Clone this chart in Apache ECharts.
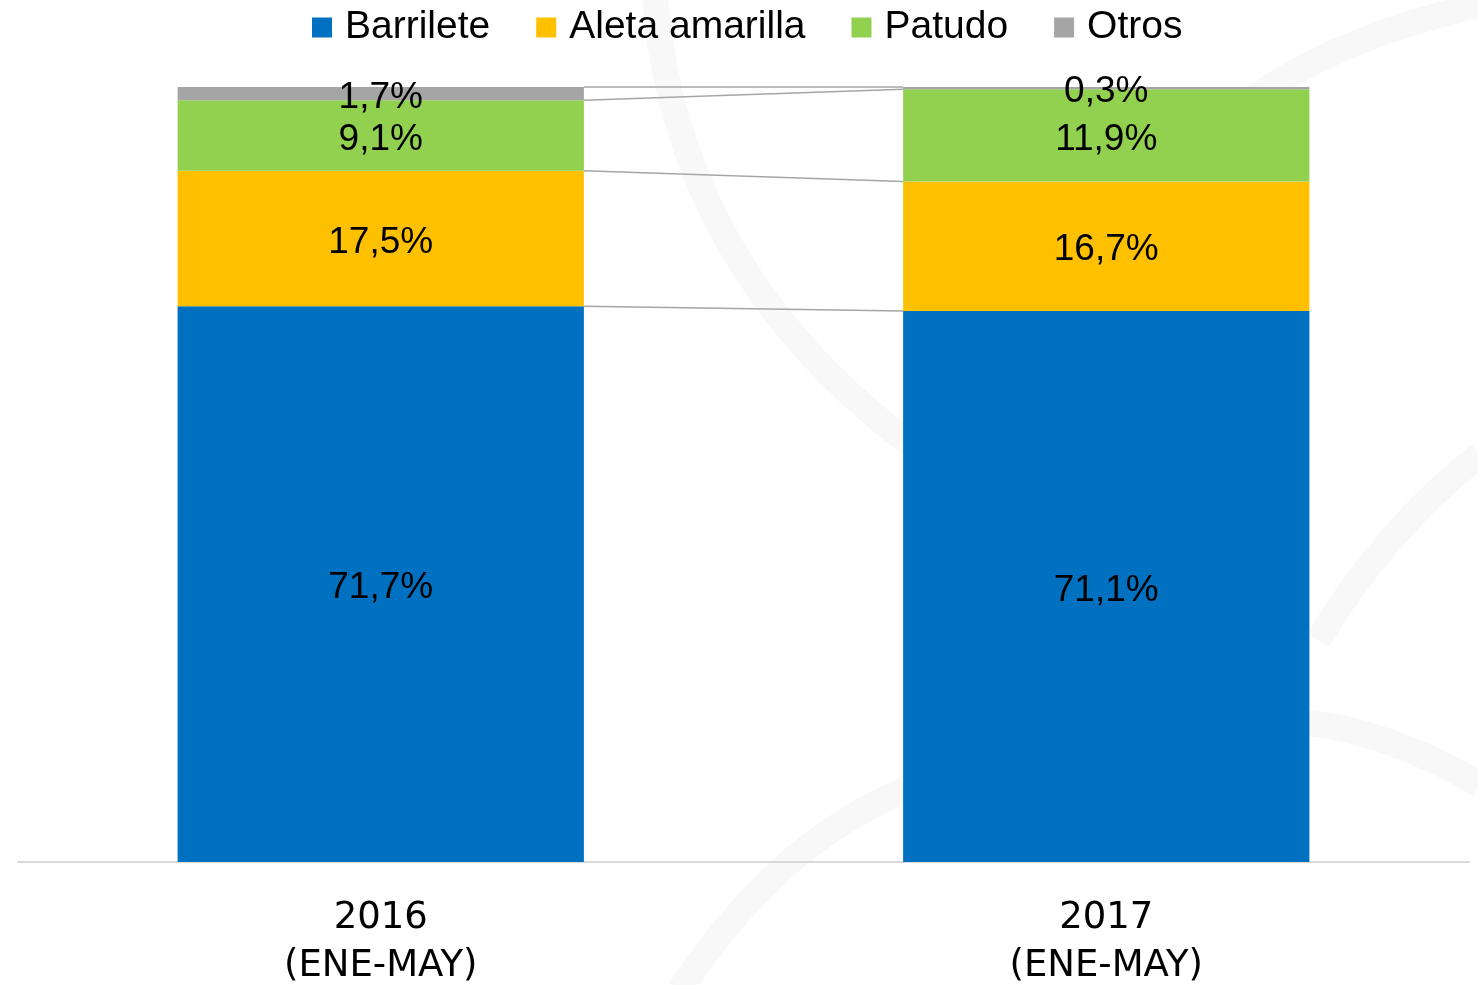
<!DOCTYPE html>
<html>
<head>
<meta charset="utf-8">
<script src="https://cdn.jsdelivr.net/npm/echarts@6/dist/echarts.min.js"></script>
<style>
  html, body { margin: 0; padding: 0; background: #fff; }
  #chart { width: 1478px; height: 985px; }
</style>
</head>
<body>
<div id="chart"></div>
<script>
// datos (% de captura)
const categorias = ['2016\n(ENE-MAY)', '2017\n(ENE-MAY)'];
const especies = ['Barrilete', 'Aleta amarilla', 'Patudo', 'Otros'];
const barrilete = [71.7, 71.1];
const aletaAmarilla = [17.5, 16.7];
const patudo = [9.1, 11.9];
const otros = [1.7, 0.3];
const colores = ['#0070C0', '#FFC000', '#92D050', '#A5A5A5'];

const valores = [barrilete, aletaAmarilla, patudo, otros];
const anchoBarra = 0.56; // fraccion de la banda

// acumulados para las lineas de union entre barras
let acum = [0, 0];
const uniones = valores.map(arr => {
  acum = [acum[0] + arr[0], acum[1] + arr[1]];
  return [0, acum[0], acum[1]];
});

const myChart = echarts.init(document.getElementById('chart'));

const fmt = p => p.value.toFixed(1).replace('.', ',') + '%';

// marca de agua de fondo (arcos grises muy claros)
const fondo = [
  [655, -5, 668, 180, 760, 330, 905, 440],
  [1230, 115, 1300, 60, 1390, 25, 1480, 5],
  [1480, 455, 1420, 500, 1360, 570, 1318, 640],
  [1305, 722, 1370, 730, 1430, 755, 1480, 785],
  [680, 990, 740, 900, 810, 830, 905, 790]
].map(c => ({
  type: 'bezierCurve',
  z: -10,
  silent: true,
  shape: { x1: c[0], y1: c[1], cpx1: c[2], cpy1: c[3], cpx2: c[4], cpy2: c[5], x2: c[6], y2: c[7] },
  style: { stroke: '#f8f8f8', lineWidth: 26, fill: null }
}));

const series = especies.map((nombre, i) => ({
  name: nombre,
  type: 'bar',
  stack: 'total',
  barWidth: (anchoBarra * 100) + '%',
  data: valores[i],
  itemStyle: { color: colores[i] },
  label: {
    show: true,
    position: 'inside',
    offset: [0, 4],
    formatter: fmt,
    color: '#000',
    fontFamily: 'Liberation Sans',
    fontSize: 37
  }
}));

series.push({
  name: 'uniones',
  type: 'custom',
  silent: true,
  encode: { x: 0, y: [1, 2] },
  data: uniones,
  renderItem: (params, api) => {
    const p0 = api.coord([0, api.value(1)]);
    const p1 = api.coord([1, api.value(2)]);
    const bw = api.size([1, 0])[0] * anchoBarra;
    return {
      type: 'line',
      shape: { x1: p0[0] + bw / 2, y1: p0[1], x2: p1[0] - bw / 2, y2: p1[1] },
      style: { stroke: '#a6a6a6', lineWidth: 1.5 }
    };
  }
});

const options = {
  backgroundColor: '#fff',
  animation: false,
  graphic: fondo,
  legend: {
    data: especies,
    left: 307,
    top: 3,
    itemWidth: 20,
    itemHeight: 20,
    itemGap: 46,
    icon: 'rect',
    textStyle: {
      fontFamily: 'Liberation Sans',
      fontSize: 39,
      color: '#000',
      padding: [0, 0, 0, 8]
    }
  },
  grid: {
    left: 18,
    right: 9,
    top: 87,
    bottom: 123,
    outerBoundsMode: 'none'
  },
  xAxis: {
    type: 'category',
    data: categorias,
    axisLine: { lineStyle: { color: '#d9d9d9', width: 2 } },
    axisTick: { show: false },
    axisLabel: {
      margin: 32,
      fontFamily: 'DejaVu Sans',
      fontSize: 37,
      lineHeight: 48,
      color: '#000'
    }
  },
  yAxis: {
    type: 'value',
    min: 0,
    max: 100,
    show: false,
    splitLine: { show: false }
  },
  series: series
};

myChart.setOption(options);
</script>
</body>
</html>
